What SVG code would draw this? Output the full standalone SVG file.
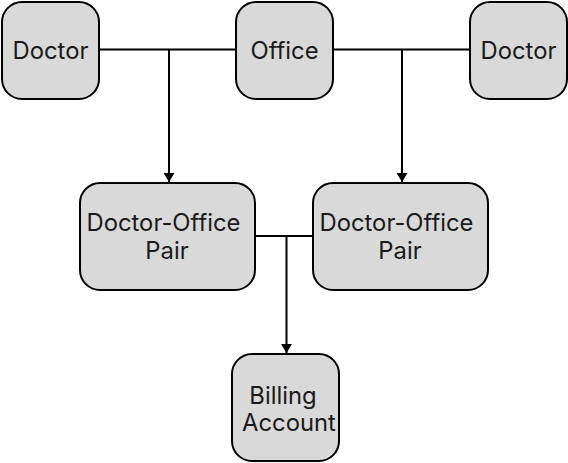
<svg xmlns="http://www.w3.org/2000/svg" width="568" height="463" viewBox="0 0 568 463">
<style>
.box{fill:#d9d9d9;stroke:#000;stroke-width:2}
.lbl{font-family:Inter,"Liberation Sans",sans-serif;font-size:23.8px;fill:#1a1a1a;text-anchor:middle}
.con{fill:none;stroke:#000;stroke-width:2}
</style>
<defs>
<marker id="arr" viewBox="0 0 9 11" refX="9" refY="5.5" markerWidth="9" markerHeight="11" orient="auto" markerUnits="userSpaceOnUse">
<path d="M0,0 L9,5.5 L0,11 z" fill="#000"/>
</marker>
</defs>
<rect width="568" height="463" fill="#fff"/>
<g id="connectors">
<path class="con" d="M100,49.5 H236"/>
<path class="con" d="M169,49.5 V182" marker-end="url(#arr)"/>
<path class="con" d="M334,49.5 H470"/>
<path class="con" d="M402,49.5 V182" marker-end="url(#arr)"/>
<path class="con" d="M256,236 H313"/>
<path class="con" d="M286.5,236 V353" marker-end="url(#arr)"/>
</g>
<g id="doctor1"><rect class="box" x="2" y="2" width="97" height="97" rx="20"/><text class="lbl" x="50.5" y="59">Doctor</text></g>
<g id="office"><rect class="box" x="236" y="2" width="97" height="97" rx="20"/><text class="lbl" x="284.5" y="59">Office</text></g>
<g id="doctor2"><rect class="box" x="470" y="2" width="97" height="97" rx="20"/><text class="lbl" x="518.5" y="59">Doctor</text></g>
<g id="pair1"><rect class="box" x="80" y="183" width="175" height="107" rx="20"/><text class="lbl"><tspan x="163.5" y="231">Doctor-Office</tspan><tspan x="167" y="259">Pair</tspan></text></g>
<g id="pair2"><rect class="box" x="313" y="183" width="175" height="107" rx="20"/><text class="lbl"><tspan x="396.5" y="231">Doctor-Office</tspan><tspan x="400" y="259">Pair</tspan></text></g>
<g id="billing"><rect class="box" x="232" y="354" width="107" height="107" rx="20"/><text class="lbl"><tspan x="283" y="404">Billing</tspan><tspan x="289" y="431">Account</tspan></text></g>
</svg>
